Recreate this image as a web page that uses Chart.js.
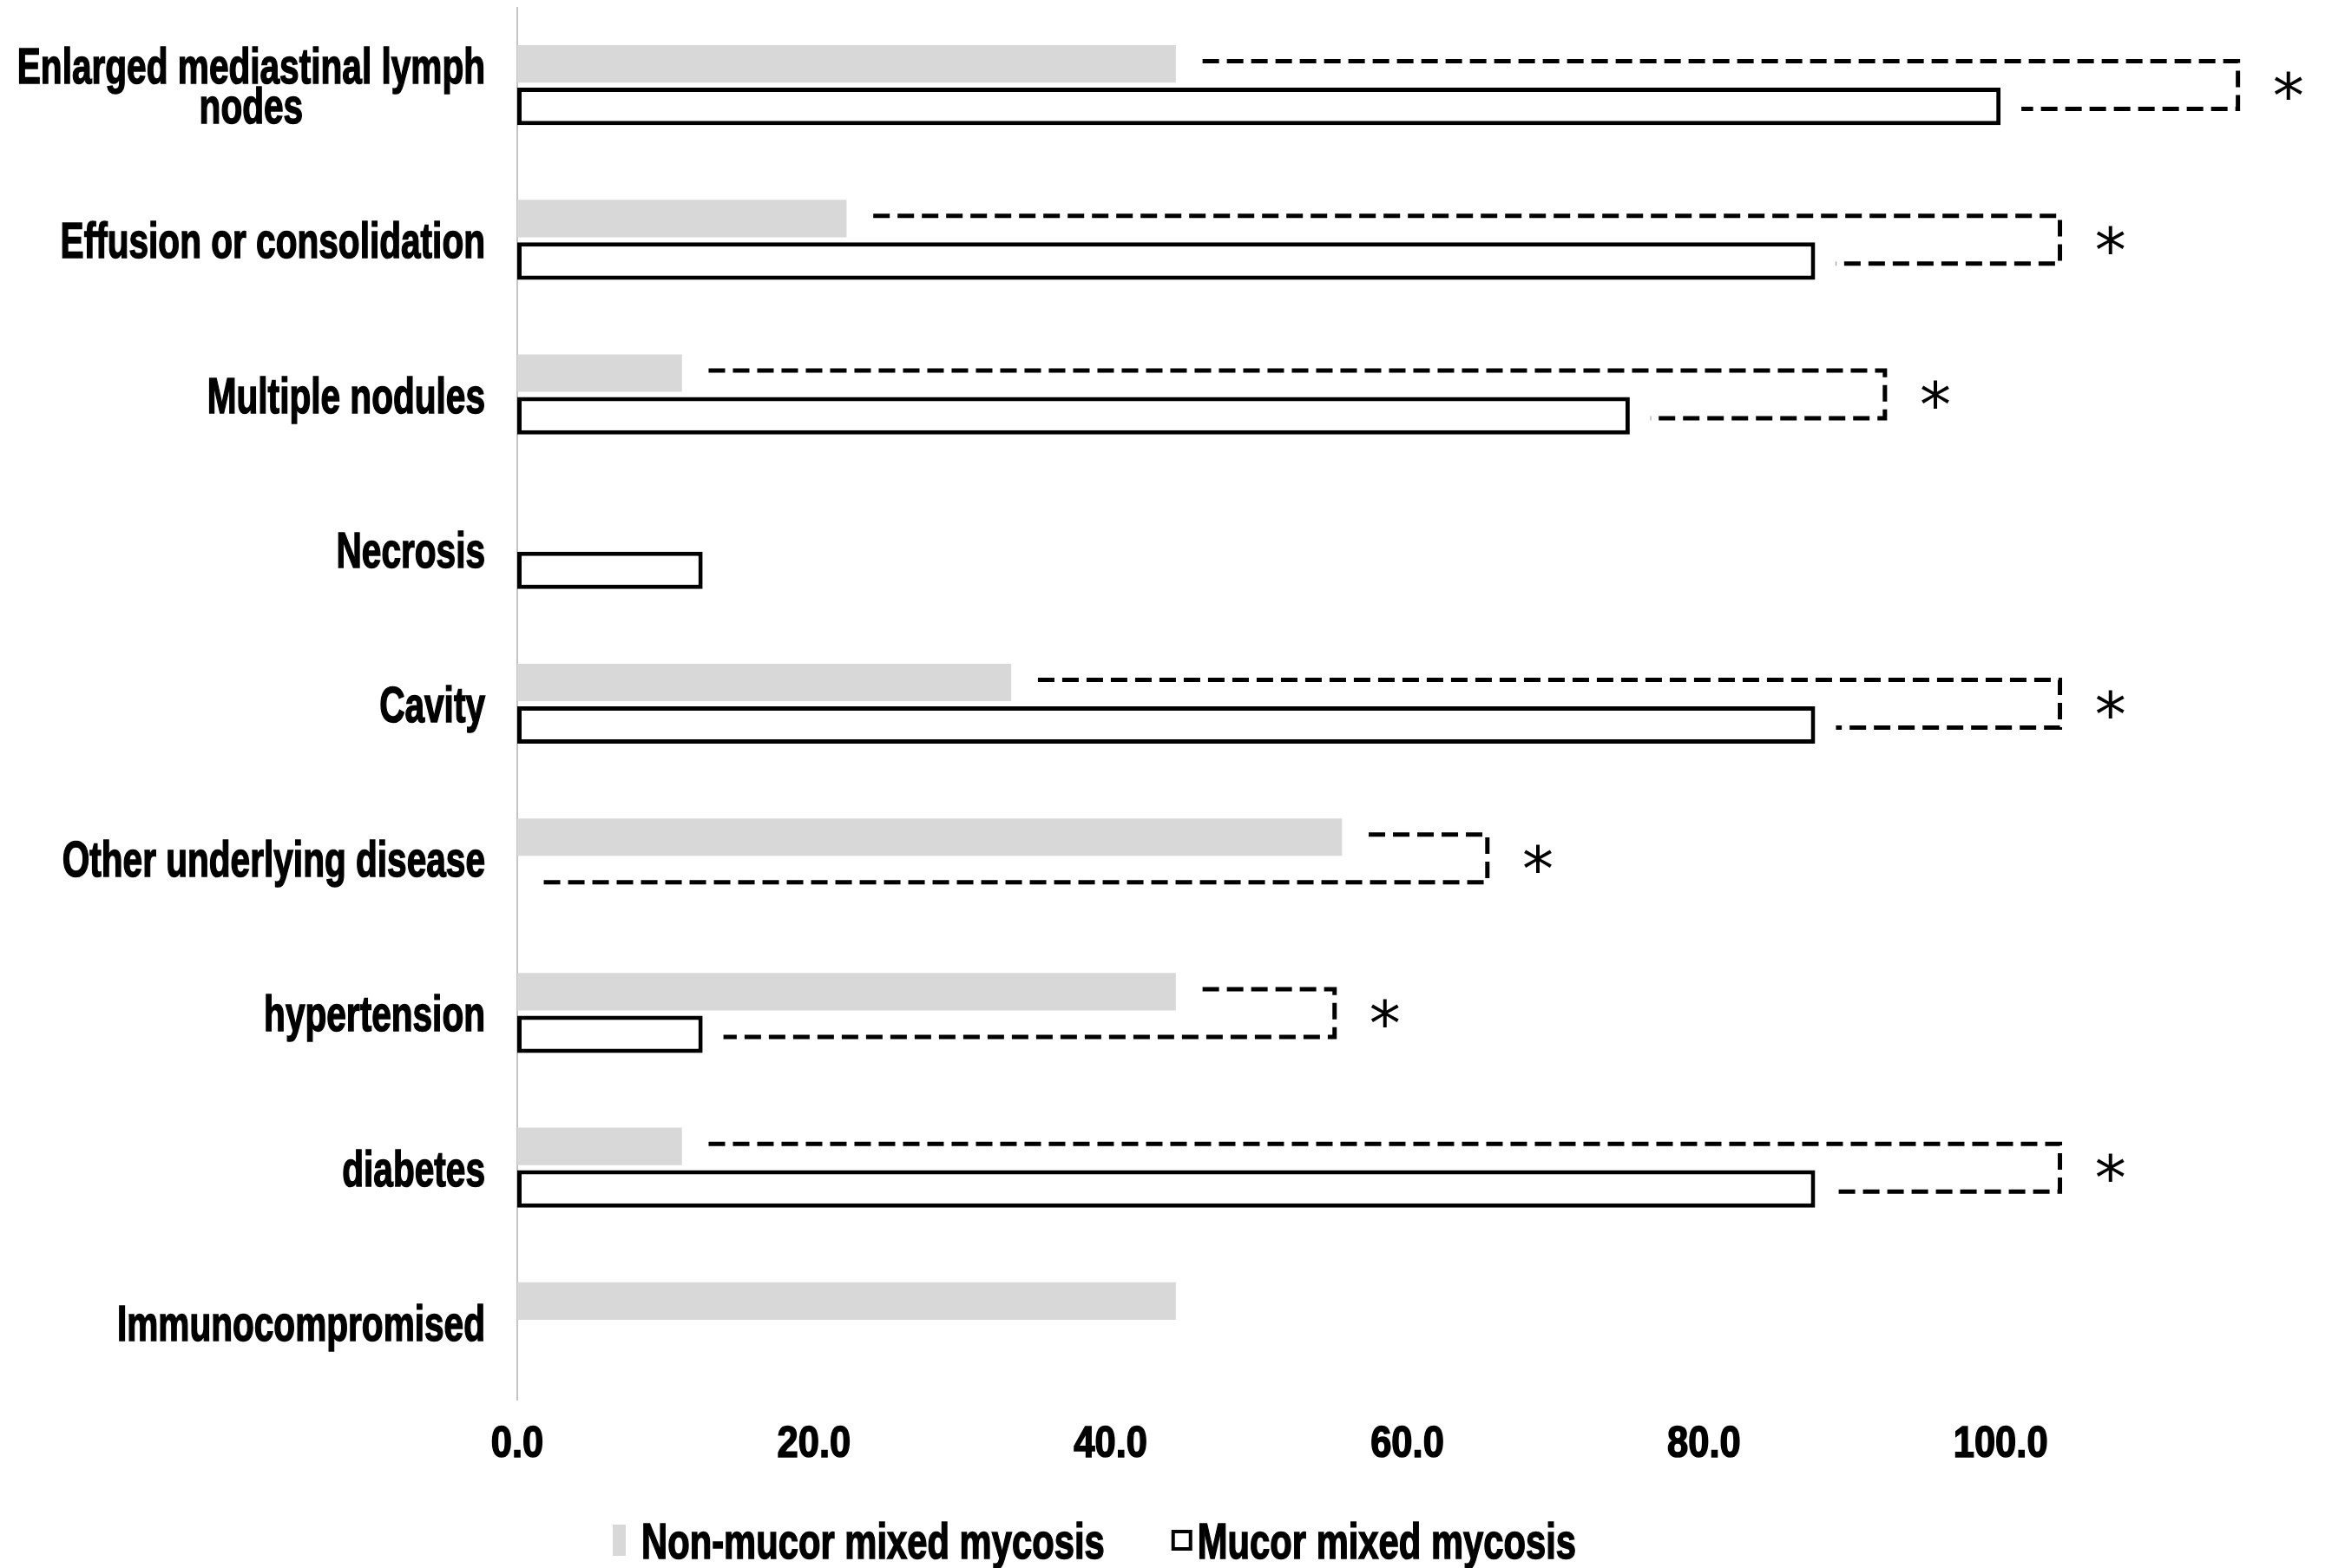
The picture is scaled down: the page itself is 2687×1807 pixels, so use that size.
<!DOCTYPE html>
<html>
<head>
<meta charset="utf-8">
<script src="https://cdn.jsdelivr.net/npm/chart.js@4.4.1/dist/chart.umd.min.js"></script>
<style>
    html, body { margin: 0; padding: 0; background: #ffffff; }
    #wrap { width: 2687px; height: 1807px; }
</style>
</head>
<body>
<div id="wrap"><canvas id="chart" width="2687" height="1807"></canvas></div>
<script>
const categories = [
    ['Enlarged mediastinal lymph', 'nodes'],
    'Effusion or consolidation',
    'Multiple nodules',
    'Necrosis',
    'Cavity',
    'Other underlying disease',
    'hypertension',
    'diabetes',
    'Immunocompromised'
];
const nonMucor = [44.4, 22.2, 11.1, 0, 33.3, 55.6, 44.4, 11.1, 44.4];
const mucor = [100, 87.5, 75, 12.5, 87.5, 0, 12.5, 87.5, 0];
// where the dashed significance bracket turns down (null = no bracket)
const bracketAt = [116, 104, 92.2, null, 104, 65.4, 55.1, 104, null];
const xTicks = [0, 20, 40, 60, 80, 100];

const FONT = '"Liberation Sans", Arial, sans-serif';
const GRAY = '#d8d8d8';

// the original uses a narrow heavy face, so squeeze the text horizontally
// and run a thin stroke over it to thicken the strokes
function condensedText(ctx, text, x, y, align, sx) {
    ctx.save();
    ctx.translate(x, y);
    ctx.scale(sx, 1);
    ctx.textAlign = align;
    ctx.fillText(text, 0, 0);
    ctx.lineWidth = 1.6;
    ctx.strokeStyle = ctx.fillStyle;
    ctx.strokeText(text, 0, 0);
    ctx.restore();
}

// category labels, right aligned, multi-line ones centred inside their block
const labelPlugin = {
    id: 'labels',
    afterDraw(chart) {
        const ctx = chart.ctx;
        const y = chart.scales.y;
        const right = chart.chartArea.left - 37;
        const sx = 0.7;
        ctx.save();
        ctx.font = 'bold 58px ' + FONT;
        ctx.fillStyle = '#000';
        ctx.textBaseline = 'alphabetic';
        categories.forEach((lab, i) => {
            const lines = Array.isArray(lab) ? lab : [lab];
            const w = Math.max(...lines.map(l => ctx.measureText(l).width)) * sx;
            const cx = right - w / 2;
            const cy = y.getPixelForTick(i);
            const lh = 46;
            lines.forEach((l, k) => {
                const by = cy + 21 + (k - (lines.length - 1) / 2) * lh;
                condensedText(ctx, l, cx, by, 'center', sx);
            });
        });

        // x tick labels
        const x = chart.scales.x;
        ctx.font = 'bold 50px ' + FONT;
        x.ticks.forEach(t => {
            condensedText(ctx, t.value.toFixed(1), x.getPixelForValue(t.value),
                chart.chartArea.bottom + 66, 'center', 0.87);
        });
        ctx.restore();
    }
};

// dashed brackets with a star between the two bars
const bracketPlugin = {
    id: 'brackets',
    afterDatasetsDraw(chart) {
        const ctx = chart.ctx;
        const x = chart.scales.x;
        const top = chart.getDatasetMeta(0).data;
        const bot = chart.getDatasetMeta(1).data;
        ctx.save();
        ctx.strokeStyle = '#000';
        ctx.lineWidth = 5;
        ctx.setLineDash([19, 9]);
        bracketAt.forEach((b, i) => {
            if (b === null) return;
            const xb = x.getPixelForValue(b);
            const y1 = top[i].y - 3;
            const y2 = bot[i].y + 3;
            const x1 = x.getPixelForValue(nonMucor[i] + 1.8);
            const x2 = x.getPixelForValue(mucor[i] + 1.4);
            ctx.beginPath();
            ctx.moveTo(x1, y1);
            ctx.lineTo(xb, y1);
            ctx.lineTo(xb, y2);
            ctx.lineTo(x2, y2);
            ctx.stroke();
        });
        ctx.setLineDash([]);
        ctx.font = '72px "DejaVu Sans", sans-serif';
        ctx.fillStyle = '#000';
        ctx.textAlign = 'center';
        ctx.textBaseline = 'alphabetic';
        const m = ctx.measureText('*');
        const shift = (m.actualBoundingBoxAscent - m.actualBoundingBoxDescent) / 2;
        bracketAt.forEach((b, i) => {
            if (b === null) return;
            const cy = (top[i].y + bot[i].y) / 2;
            ctx.fillText('*', x.getPixelForValue(b + 3.4), cy + shift);
        });
        ctx.restore();
    }
};

// legend below the axis
const legendPlugin = {
    id: 'customLegend',
    afterDraw(chart) {
        const ctx = chart.ctx;
        const ds = chart.data.datasets;
        const sx = 0.72;
        ctx.save();
        ctx.font = 'bold 58px ' + FONT;
        ctx.textBaseline = 'alphabetic';
        const cy = 1775;
        const boxes = [{ w: 15, h: 36 }, { w: 24, h: 24 }];
        let cx = 706;
        ds.forEach((d, i) => {
            const bx = boxes[i];
            ctx.fillStyle = d.backgroundColor;
            ctx.fillRect(cx, cy - bx.h / 2, bx.w, bx.h);
            if (d.borderWidth) {
                ctx.strokeStyle = d.borderColor;
                ctx.lineWidth = 4;
                ctx.strokeRect(cx + 2, cy - bx.h / 2 + 2, bx.w - 4, bx.h - 4);
            }
            ctx.fillStyle = '#000';
            const tx = cx + bx.w + (i === 0 ? 18 : 6);
            condensedText(ctx, d.label, tx, cy + 21, 'left', sx);
            cx = tx + ctx.measureText(d.label).width * sx + 77;
        });
        ctx.restore();
    }
};

new Chart(document.getElementById('chart'), {
    type: 'bar',
    data: {
        labels: categories,
        datasets: [
            {
                label: 'Non-mucor mixed mycosis',
                data: nonMucor,
                backgroundColor: GRAY,
                borderWidth: 0,
                categoryPercentage: 0.55,
                barPercentage: 0.88
            },
            {
                label: 'Mucor mixed mycosis',
                data: mucor,
                backgroundColor: '#ffffff',
                borderColor: '#000000',
                borderWidth: 5,
                borderSkipped: false,
                categoryPercentage: 0.55,
                barPercentage: 0.88
            }
        ]
    },
    options: {
        indexAxis: 'y',
        responsive: false,
        animation: false,
        layout: { padding: { top: 9, right: 40, left: 0, bottom: 0 } },
        plugins: {
            legend: { display: false },
            tooltip: { enabled: false }
        },
        scales: {
            x: {
                min: 0,
                max: 120,
                grid: { display: false, drawTicks: false },
                border: { display: false },
                afterFit: (scale) => { scale.height = 194; },
                afterBuildTicks: (scale) => {
                    scale.ticks = xTicks.map(v => ({ value: v }));
                },
                ticks: { display: false }
            },
            y: {
                offset: true,
                grid: { display: false, drawTicks: false },
                border: { color: '#c4c4c4', width: 2 },
                ticks: { display: false },
                afterFit: (scale) => { scale.width = 596; }
            }
        }
    },
    plugins: [labelPlugin, bracketPlugin, legendPlugin]
});
</script>
</body>
</html>
